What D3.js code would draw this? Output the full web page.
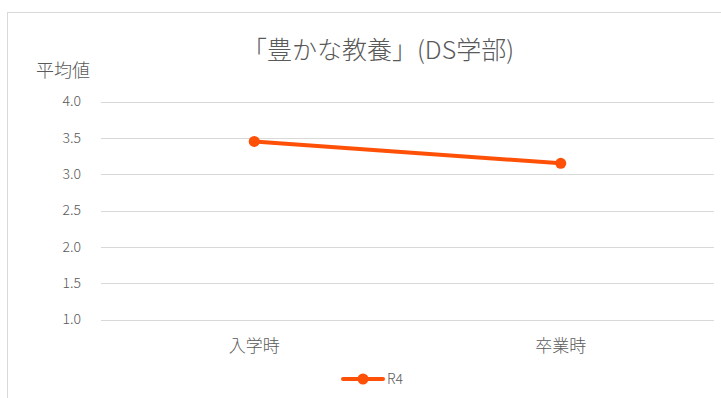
<!DOCTYPE html>
<html>
<head>
<meta charset="utf-8">
<script src="https://cdn.jsdelivr.net/npm/d3@7"></script>
<style>
  html, body { margin: 0; padding: 0; background: #fff; }
  svg { display: block; }
  text { font-family: "Noto Sans CJK JP", "Noto Sans", sans-serif; fill: #595959; font-weight: 300; }
</style>
</head>
<body>
<svg id="chart" width="721" height="398"></svg>
<script>
// Chart data
const categories = ["入学時", "卒業時"];
const seriesName = "R4";
const seriesValues = [3.45, 3.15];
const yTicks = [1.0, 1.5, 2.0, 2.5, 3.0, 3.5, 4.0];
const titleText = "「豊かな教養」(DS学部)";
const yAxisTitle = "平均値";

const W = 721, H = 398;
const margin = { left: 101, right: 7, top: 101.5, bottom: 78.5 };
const lineColor = "#FF5008";

const svg = d3.select("#chart");

// outer chart frame
svg.append("rect")
  .attr("x", 7.5).attr("y", 12.5)
  .attr("width", 800).attr("height", 500)
  .attr("fill", "#fff").attr("stroke", "#d9d9d9").attr("stroke-width", 1);

const x = d3.scaleBand()
  .domain(categories)
  .range([margin.left, W - margin.right])
  .paddingInner(0).paddingOuter(0);

const y = d3.scaleLinear()
  .domain([1, 4])
  .range([H - margin.bottom, margin.top]);

// horizontal gridlines
svg.append("g")
  .selectAll("line")
  .data(yTicks)
  .join("line")
  .attr("x1", margin.left).attr("x2", W - margin.right)
  .attr("y1", d => Math.round(y(d)) + 0.5)
  .attr("y2", d => Math.round(y(d)) + 0.5)
  .attr("stroke", "#d9d9d9").attr("stroke-width", 1);

// y axis labels
const yAxis = d3.axisLeft(y).tickValues(yTicks).tickFormat(d3.format(".1f")).tickSize(0).tickPadding(0);
const gy = svg.append("g").attr("transform", `translate(81,0)`).call(yAxis);
gy.select(".domain").remove();
gy.selectAll("text").style("font-size", "14px").style("font-weight", 300).attr("fill", "#595959");

// x axis labels
const xAxis = d3.axisBottom(x).tickSize(0).tickPadding(0);
const gx = svg.append("g").attr("transform", `translate(0,${H - margin.bottom + 20})`).call(xAxis);
gx.select(".domain").remove();
gx.selectAll("text").style("font-size", "17px").style("font-weight", 300).attr("fill", "#595959");

// title
svg.append("text")
  .attr("x", 378).attr("y", 59)
  .attr("text-anchor", "middle")
  .style("font-size", "25px")
  .text(titleText);

// y axis title
svg.append("text")
  .attr("x", 36).attr("y", 77)
  .style("font-size", "18px")
  .text(yAxisTitle);

// series line
const pts = categories.map((c, i) => [x(c) + x.bandwidth() / 2, y(seriesValues[i])]);
svg.append("path")
  .attr("d", d3.line()(pts))
  .attr("fill", "none")
  .attr("stroke", lineColor)
  .attr("stroke-width", 4)
  .attr("stroke-linecap", "round");

svg.append("g")
  .selectAll("circle")
  .data(pts)
  .join("circle")
  .attr("cx", d => d[0]).attr("cy", d => d[1])
  .attr("r", 5.5)
  .attr("fill", lineColor);

// legend
const lg = svg.append("g").attr("transform", "translate(343,379)");
lg.append("line")
  .attr("x1", 0).attr("x2", 40).attr("y1", 0).attr("y2", 0)
  .attr("stroke", lineColor).attr("stroke-width", 4).attr("stroke-linecap", "round");
lg.append("circle").attr("cx", 20).attr("cy", 0).attr("r", 5.5).attr("fill", lineColor);
lg.append("text")
  .attr("x", 44).attr("y", 5)
  .style("font-size", "14px")
  .text(seriesName);
</script>
</body>
</html>
